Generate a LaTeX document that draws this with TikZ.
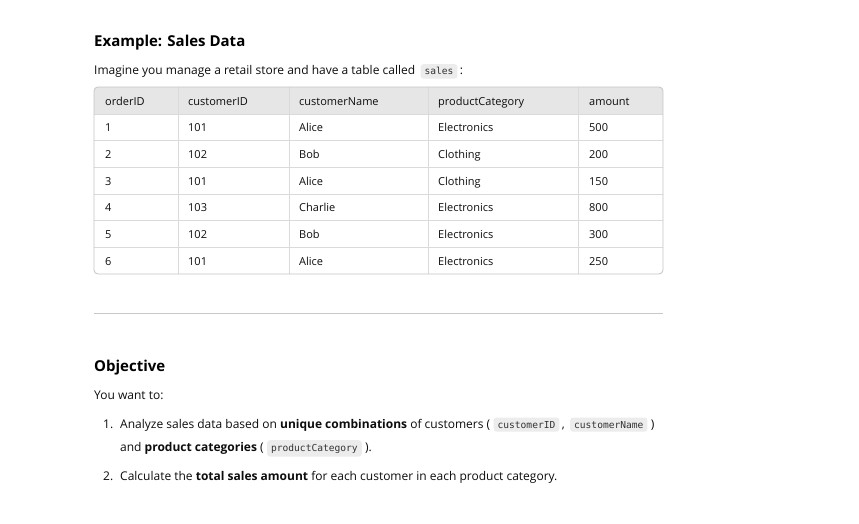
\documentclass[tikz,border=0pt]{standalone}
\usepackage{fontspec}
\setmainfont{Open Sans}
\newfontfamily\codefont{DejaVu Sans Mono}
\usetikzlibrary{calc}
\definecolor{textc}{HTML}{0D0D0D}
\definecolor{codebg}{HTML}{ECECEC}
\definecolor{codetx}{HTML}{333333}
\definecolor{gridc}{HTML}{DADADA}
\definecolor{headbg}{HTML}{E6E6E6}
\definecolor{rulec}{HTML}{C8C8C8}
\newcommand{\bodyf}{\fontsize{12}{15}\selectfont}
\newcommand{\cellf}{\fontsize{11}{13}\selectfont}
\newcommand{\codef}{\codefont\fontsize{9.6}{11}\selectfont}
\tikzset{
  txt/.style={inner sep=0pt, anchor=base west, font=\bodyf, text=textc},
  cell/.style={inner sep=0pt, anchor=base west, font=\cellf, text=textc},
  codebox/.style={fill=codebg, rounded corners=3pt, inner xsep=4pt, inner ysep=3.5pt, anchor=base west, font=\codef, text=codetx},
  head/.style={inner sep=0pt, anchor=base west, font=\bfseries\fontsize{15}{18}\selectfont, text=black},
}
\begin{document}
\begin{tikzpicture}[x=1pt,y=-1pt]
\useasboundingbox[fill=white] (0,0) rectangle (859,524);
% title
\node[head] (title) at (94,47) {Example: Sales Data};
\node[txt] (im) at (94,75) {Imagine you manage a retail store and have a table called};
\node[codebox] (csales) at ($(im.base east)+(5,0)$) {sales};
\node[txt] (colon) at ($(csales.base east)+(2,0)$) {:};
% table
\begin{scope}
\clip[rounded corners=4pt] (94,87) rectangle (663,274);
\fill[headbg] (94,87) rectangle (663,114);
\foreach \y in {114,140.7,167.3,194,220.7,247.3}
  \draw[gridc, line width=0.8pt] (94,\y) -- (663,\y);
\foreach \x in {178,289,428,578}
  \draw[gridc, line width=0.8pt] (\x,87) -- (\x,274);
\end{scope}
\draw[gridc!90!black, line width=0.8pt, rounded corners=4pt] (94,87) rectangle (663,274);
\node[cell] (h1) at (105,105.5) {orderID};
\node[cell] (h2) at (188,105.5) {customerID};
\node[cell] (h3) at (299,105.5) {customerName};
\node[cell] (h4) at (438,105.5) {productCategory};
\node[cell] (h5) at (589,105.5) {amount};
\foreach \i/\a/\b/\c/\d/\e in {1/1/101/Alice/Electronics/500, 2/2/102/Bob/Clothing/200, 3/3/101/Alice/Clothing/150, 4/4/103/Charlie/Electronics/800, 5/5/102/Bob/Electronics/300, 6/6/101/Alice/Electronics/250}{
  \pgfmathsetmacro{\yy}{114+(\i-0.5)*26.67+4.5}
  \node[cell] (r\i c1) at (105,\yy) {\a};
  \node[cell] (r\i c2) at (188,\yy) {\b};
  \node[cell] (r\i c3) at (299,\yy) {\c};
  \node[cell] (r\i c4) at (438,\yy) {\d};
  \node[cell] (r\i c5) at (589,\yy) {\e};
}
% rule
\draw[rulec, line width=1pt] (94,313) -- (663,313);
% objective
\node[head] (obj) at (94,371.5) {Objective};
\node[txt] (want) at (94,399) {You want to:};
\node[txt] (n1) at (103,428) {1.};
\node[txt] (l1a) at (120,428) {Analyze sales data based on \textbf{unique combinations} of customers (};
\node[codebox] (ccid) at ($(l1a.base east)+(3,0)$) {customerID};
\node[txt] (comma) at ($(ccid.base east)+(2,0)$) {,};
\node[codebox] (ccname) at ($(comma.base east)+(5,0)$) {customerName};
\node[txt] (rp1) at ($(ccname.base east)+(3,0)$) {)};
\node[txt] (l1b) at (120,451) {and \textbf{product categories} (};
\node[codebox] (cpc) at ($(l1b.base east)+(3,0)$) {productCategory};
\node[txt] (rp2) at ($(cpc.base east)+(3,0)$) {).};
\node[txt] (n2) at (103,480) {2.};
\node[txt] (l2) at (120,480) {Calculate the \textbf{total sales amount} for each customer in each product category.};
\end{tikzpicture}
\end{document}
